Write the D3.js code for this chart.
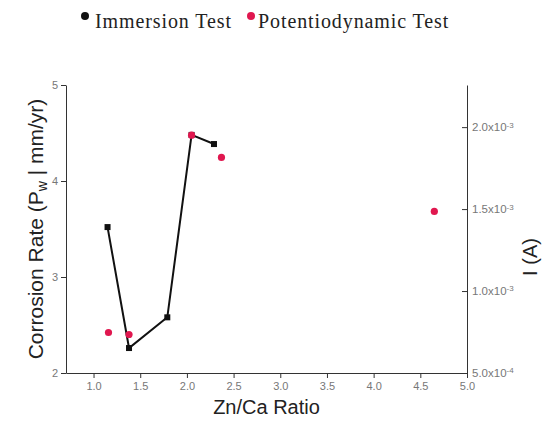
<!DOCTYPE html>
<html>
<head>
<meta charset="utf-8">
<script src="https://cdn.jsdelivr.net/npm/d3@7"></script>
<style>
  body { margin: 0; background: #fff; }
  svg text { font-family: "Liberation Sans", Arial, sans-serif; }
</style>
</head>
<body>
<svg id="svg" width="548" height="424"></svg>
<script>
// immersion test (left axis, mm/yr)
var immX = [1.15, 1.38, 1.79, 2.05, 2.29];
var immY = [3.52, 2.26, 2.58, 4.48, 4.385];
// potentiodynamic test (right axis, A)
var potX = [1.16, 1.38, 2.05, 2.37, 4.65];
var potY = [7.47e-4, 7.35e-4, 1.951e-3, 1.815e-3, 1.486e-3];

var xTicks = [1.0, 1.5, 2.0, 2.5, 3.0, 3.5, 4.0, 4.5, 5.0];
var yTicks = [2, 3, 4, 5];
var y2Ticks = [5e-4, 1e-3, 1.5e-3, 2e-3];
var y2Labels = ["5.0x10", "1.0x10", "1.5x10", "2.0x10"];
var y2Exp = ["-4", "-3", "-3", "-3"];

var svg = d3.select("#svg");
var mLeft = 66, mRight = 467, mTop = 85, mBottom = 373;

var x = d3.scaleLinear().domain([0.705, 5.0]).range([mLeft, mRight]);
var y = d3.scaleLinear().domain([2, 5]).range([mBottom, mTop]);
var y2 = d3.scaleLinear().domain([5e-4, 2.257e-3]).range([mBottom, mTop]);

var axisCol = "#333";
var tickTxt = "#777";

// x axis
var gx = svg.append("g").attr("transform", "translate(0," + mBottom + ")");
gx.call(d3.axisBottom(x).tickValues(d3.range(0.75, 5.01, 0.25)).tickSize(3).tickFormat(""));
gx.call(d3.axisBottom(x).tickValues(xTicks).tickSize(5).tickSizeOuter(0).tickFormat(d3.format(".1f")));
gx.selectAll("path, line").attr("stroke", axisCol);
gx.selectAll("text").attr("fill", tickTxt).style("font-size", "11px").attr("dy", "0.8em");

// left axis
var gy = svg.append("g").attr("transform", "translate(" + mLeft + ",0)");
gy.call(d3.axisLeft(y).tickValues([2.5, 3.5, 4.5]).tickSize(3).tickSizeOuter(0).tickFormat(""));
gy.call(d3.axisLeft(y).tickValues(yTicks).tickSize(5).tickSizeOuter(0).tickFormat(d3.format("d")));
gy.selectAll("path, line").attr("stroke", axisCol);
gy.selectAll("text").attr("fill", tickTxt).style("font-size", "11px");

// right axis, ticks pointing inward
var gy2 = svg.append("g").attr("transform", "translate(" + mRight + ",0)");
gy2.call(d3.axisRight(y2).tickValues([7.5e-4, 1.25e-3, 1.75e-3, 2.25e-3]).tickSize(-3).tickSizeOuter(0).tickFormat(""));
gy2.call(d3.axisRight(y2).tickValues(y2Ticks).tickSize(-5).tickSizeOuter(0).tickFormat(""));
gy2.selectAll("path, line").attr("stroke", axisCol);

var lab2 = gy2.selectAll(".lab2").data(y2Ticks).enter().append("text")
  .attr("class", "lab2")
  .attr("x", 5)
  .attr("y", function(d) { return y2(d); })
  .attr("dy", "0.35em")
  .attr("fill", tickTxt)
  .style("font-size", "11.5px");
lab2.append("tspan").text(function(d, i) { return y2Labels[i]; });
lab2.append("tspan").attr("dy", "-0.45em").style("font-size", "8px")
  .text(function(d, i) { return y2Exp[i]; });

// immersion line + squares
var line = d3.line().x(function(d) { return x(d[0]); }).y(function(d) { return y(d[1]); });
var immData = d3.zip(immX, immY);
svg.append("path").datum(immData).attr("d", line)
  .attr("fill", "none").attr("stroke", "#111").attr("stroke-width", 2);
svg.selectAll(".sq").data(immData).enter().append("rect")
  .attr("class", "sq")
  .attr("x", function(d) { return x(d[0]) - 3; })
  .attr("y", function(d) { return y(d[1]) - 3; })
  .attr("width", 6).attr("height", 6)
  .attr("fill", "#111");

// potentiodynamic dots
var red = "#e0174f";
svg.selectAll(".dot").data(d3.zip(potX, potY)).enter().append("circle")
  .attr("class", "dot")
  .attr("cx", function(d) { return x(d[0]); })
  .attr("cy", function(d) { return y2(d[1]); })
  .attr("r", 3.6)
  .attr("fill", red);

// axis titles
var yt = svg.append("text")
  .attr("transform", "translate(43," + ((mTop + mBottom) / 2) + ") rotate(-90)")
  .attr("text-anchor", "middle")
  .style("font-size", "21px")
  .attr("fill", "#222");
yt.append("tspan").text("Corrosion Rate (P");
yt.append("tspan").attr("dy", "0.3em").style("font-size", "14px").text("w");
yt.append("tspan").attr("dy", "-0.2em").text(" | mm/yr)");

svg.append("text")
  .attr("transform", "translate(537,257) rotate(-90)")
  .attr("text-anchor", "middle")
  .style("font-size", "20px")
  .attr("fill", "#222")
  .text("I (A)");

svg.append("text")
  .attr("x", (mLeft + mRight) / 2)
  .attr("y", 414)
  .attr("text-anchor", "middle")
  .style("font-size", "20px")
  .attr("fill", "#222")
  .text("Zn/Ca Ratio");

// legend
var legNames = ["Immersion Test", "Potentiodynamic Test"];
var legCols = ["#111", red];
var legDotX = [85, 251];
var legTextX = [95, 258];
legNames.forEach(function(n, i) {
  svg.append("circle").attr("cx", legDotX[i]).attr("cy", 16).attr("r", 4).attr("fill", legCols[i]);
  svg.append("text")
    .attr("x", legTextX[i])
    .attr("y", 28)
    .style("font-family", "'Liberation Serif', 'Times New Roman', serif")
    .style("font-size", "20px")
    .style("letter-spacing", "0.9px")
    .attr("fill", "#222")
    .text(n);
});
</script>
</body>
</html>
